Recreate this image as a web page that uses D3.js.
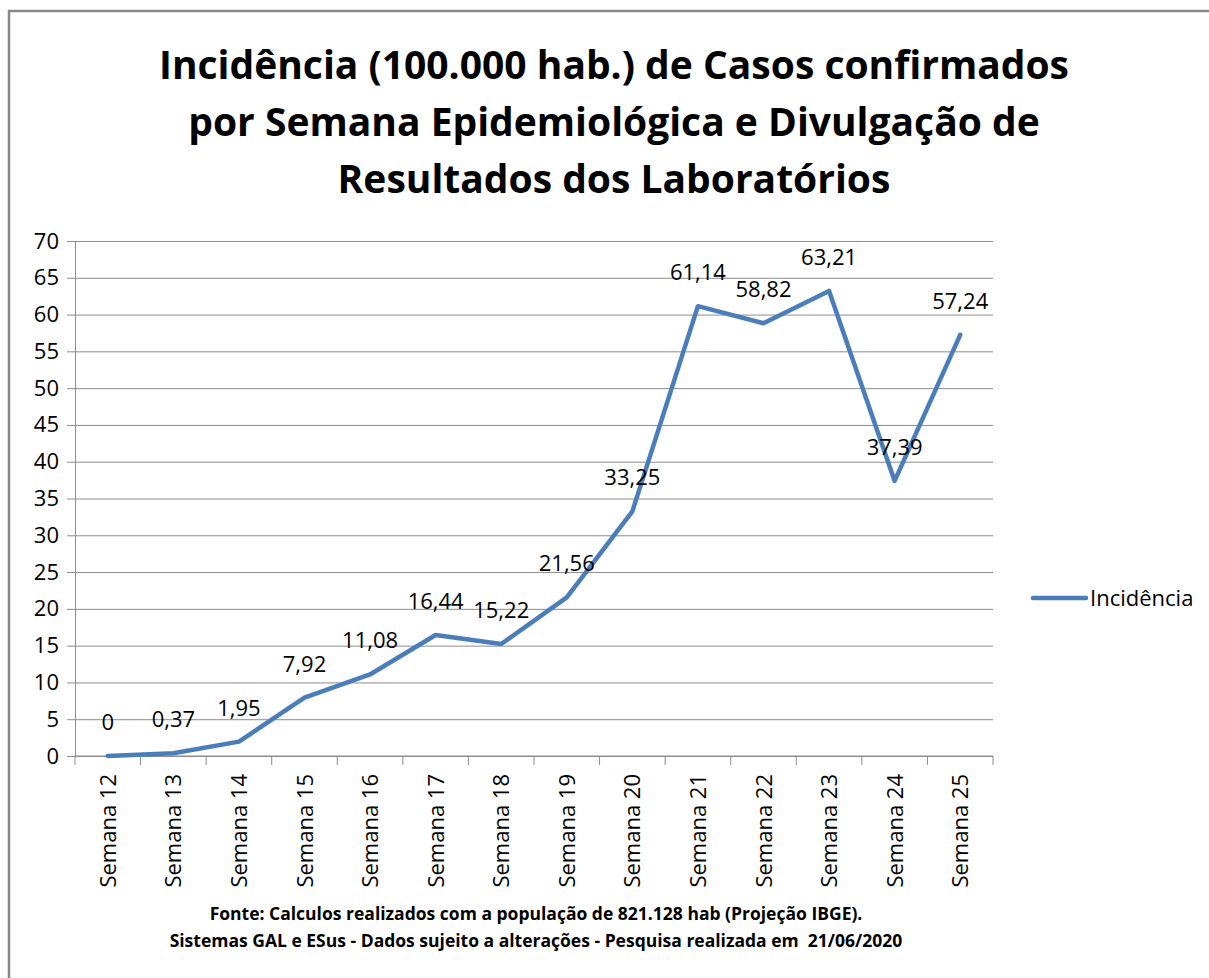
<!DOCTYPE html>
<html>
<head>
<meta charset="utf-8">
<script src="https://cdn.jsdelivr.net/npm/d3@7"></script>
<style>
  body { margin: 0; background: #fff; }
  svg { display: block; font-family: "Open Sans", sans-serif; }
</style>
</head>
<body>
<script>
// chart data
let categories = ['Semana 12', 'Semana 13', 'Semana 14', 'Semana 15', 'Semana 16', 'Semana 17', 'Semana 18',
  'Semana 19', 'Semana 20', 'Semana 21', 'Semana 22', 'Semana 23', 'Semana 24', 'Semana 25'];
let incidencia = [0, 0.37, 1.95, 7.92, 11.08, 16.44, 15.22, 21.56, 33.25, 61.14, 58.82, 63.21, 37.39, 57.24];
let yTicks = [0, 5, 10, 15, 20, 25, 30, 35, 40, 45, 50, 55, 60, 65, 70];
let titleLines = ['Incidência (100.000 hab.) de Casos confirmados',
  'por Semana Epidemiológica e Divulgação de',
  'Resultados dos Laboratórios'];
let footerLines = ['Fonte: Calculos realizados com a população de 821.128 hab (Projeção IBGE).',
  'Sistemas GAL e ESus - Dados sujeito a alterações - Pesquisa realizada em  21/06/2020'];
let seriesName = 'Incidência';

let W = 1209, H = 978;
let margin = { top: 241, right: 216, bottom: 222, left: 75 };
let width = W - margin.left - margin.right;
let height = H - margin.top - margin.bottom;
let lineColor = '#4a7ebb';
let gridColor = '#8c8c8c';

let fmt = function(v) { return String(v).replace('.', ','); };

let root = d3.select('body').append('svg')
    .attr('width', W)
    .attr('height', H);

// outer chart border (runs off the right and bottom edge)
root.append('rect')
    .attr('x', 9).attr('y', 11)
    .attr('width', W + 20).attr('height', H + 20)
    .attr('fill', 'none')
    .attr('stroke', '#888')
    .attr('stroke-width', 2.5);

// title
root.append('text')
    .attr('x', 614)
    .attr('text-anchor', 'middle')
    .attr('font-weight', 'bold')
    .attr('font-size', 39)
    .attr('fill', '#000')
  .selectAll('tspan')
  .data(titleLines)
  .enter().append('tspan')
    .attr('x', 614)
    .attr('y', function(d, i) { return 79 + i * 57; })
    .text(function(d) { return d; });

let svg = root.append('g')
    .attr('transform', 'translate(' + margin.left + ',' + margin.top + ')');

let x = d3.scaleBand().domain(categories).range([0, width]).padding(0);
let y = d3.scaleLinear().domain([0, 70]).range([height, 0]);

// y gridlines + labels
let yAxis = d3.axisLeft(y)
    .tickValues(yTicks)
    .tickSize(-width)
    .tickSizeOuter(0)
    .tickPadding(16)
    .tickFormat(d3.format('d'));

let gy = svg.append('g').attr('class', 'y axis').call(yAxis);
gy.select('.domain').attr('stroke', gridColor);
gy.selectAll('.tick line')
    .attr('x1', -8)
    .attr('stroke', gridColor);
gy.selectAll('.tick text')
    .attr('font-size', 22)
    .attr('fill', '#000')
    .attr('font-family', '"Open Sans", sans-serif');

// x axis line and boundary ticks
let gx = svg.append('g').attr('transform', 'translate(0,' + height + ')');
gx.append('line')
    .attr('x1', 0).attr('x2', width)
    .attr('stroke', gridColor);
let edges = categories.map(function(c) { return x(c); }).concat([width]);
gx.selectAll('line.edge')
  .data(edges)
  .enter().append('line')
    .attr('class', 'edge')
    .attr('x1', function(d) { return d; })
    .attr('x2', function(d) { return d; })
    .attr('y1', 0).attr('y2', 9)
    .attr('stroke', gridColor);

// category labels, rotated
gx.selectAll('text.cat')
  .data(categories)
  .enter().append('text')
    .attr('class', 'cat')
    .attr('transform', function(d) {
      return 'translate(' + (x(d) + x.bandwidth() / 2 + 8) + ',18) rotate(-90)';
    })
    .attr('text-anchor', 'end')
    .attr('font-size', 22)
    .attr('fill', '#000')
    .text(function(d) { return d; });

// the line
let line = d3.line()
    .x(function(d, i) { return x(categories[i]) + x.bandwidth() / 2; })
    .y(function(d) { return y(d); });

svg.append('path')
    .datum(incidencia)
    .attr('d', line)
    .attr('fill', 'none')
    .attr('stroke', lineColor)
    .attr('stroke-width', 4.5)
    .attr('stroke-linejoin', 'round')
    .attr('stroke-linecap', 'round');

// data labels above points
svg.selectAll('text.lbl')
  .data(incidencia)
  .enter().append('text')
    .attr('class', 'lbl')
    .attr('x', function(d, i) { return x(categories[i]) + x.bandwidth() / 2; })
    .attr('y', function(d) { return y(d) - 26; })
    .attr('text-anchor', 'middle')
    .attr('font-size', 22)
    .attr('fill', '#000')
    .text(fmt);

// legend
let legend = root.append('g').attr('transform', 'translate(1033,598)');
legend.append('line')
    .attr('x1', 0).attr('x2', 53)
    .attr('stroke', lineColor)
    .attr('stroke-width', 4.5)
    .attr('stroke-linecap', 'round');
legend.append('text')
    .attr('x', 57)
    .attr('y', 8)
    .attr('font-size', 22)
    .attr('fill', '#000')
    .text(seriesName);

// footer
root.append('text')
    .attr('text-anchor', 'middle')
    .attr('font-weight', 'bold')
    .attr('font-size', 17.5)
    .attr('fill', '#000')
    .style('white-space', 'pre')
  .selectAll('tspan')
  .data(footerLines)
  .enter().append('tspan')
    .attr('x', 536)
    .attr('y', function(d, i) { return 920 + i * 27; })
    .text(function(d) { return d; });
</script>
</body>
</html>
